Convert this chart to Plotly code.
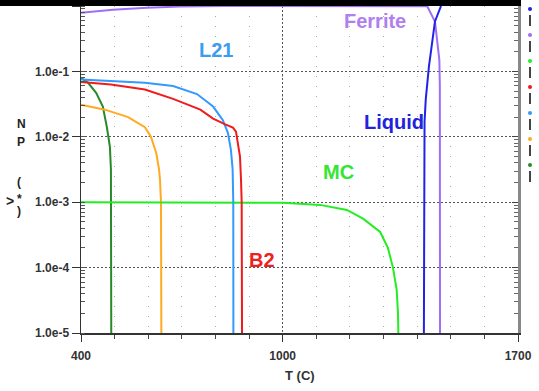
import math
import plotly.graph_objects as go

# ---------------- data ----------------
liquid_T = [1420, 1420.5, 1422, 1425.5, 1435, 1453, 1471]
liquid_NP = [1e-5, 1e-3, 0.017, 0.037, 0.118, 0.58, 1.0]

ferrite_T = [400, 495, 596, 695, 823, 1000, 1300, 1430, 1453, 1462, 1466, 1467.5, 1468]
ferrite_NP = [0.79, 0.88, 0.94, 0.98, 1.0, 1.0, 1.0, 0.99, 0.58, 0.26, 0.15, 0.06, 1e-5]

mc_T = [400, 1000, 1050, 1111, 1191, 1239, 1290, 1313, 1328, 1339, 1343, 1344]
mc_NP = [1e-3, 9.8e-4, 9.5e-4, 9.1e-4, 7.6e-4, 5.6e-4, 3.5e-4, 2e-4, 1e-4, 4.6e-5, 2e-5, 1e-5]

b2_T = [400, 489, 590, 674, 755, 793, 829, 852, 861, 867, 873, 876, 878, 879]
b2_NP = [0.069, 0.063, 0.053, 0.038, 0.026, 0.019, 0.0155, 0.0138, 0.012, 0.0083, 0.005, 0.0022, 0.001, 1e-5]

l21_T = [400, 489, 590, 674, 745, 793, 822, 837, 846, 851, 853, 853.3]
l21_NP = [0.075, 0.071, 0.067, 0.0596, 0.045, 0.029, 0.018, 0.0115, 0.0063, 0.0032, 0.001, 1e-5]

orange_T = [400, 471, 540, 590, 608, 624, 632, 635, 638, 639]
orange_NP = [0.031, 0.026, 0.020, 0.014, 0.01, 0.0056, 0.0032, 0.0022, 0.001, 1e-5]

dkgreen_T = [400, 421, 445, 465, 477, 486, 489, 490]
dkgreen_NP = [0.08, 0.067, 0.047, 0.029, 0.014, 0.007, 0.0032, 1e-5]

x_tickvals = [400, 1000, 1700]
x_ticktext = ["400", "1000", "1700"]
y_tickvals = [1e-5, 1e-4, 1e-3, 1e-2, 1e-1, 1e0]
y_ticktext = ["1.0e-5", "1.0e-4", "1.0e-3", "1.0e-2", "1.0e-1", "1.0e0"]

# phase labels: (text, T, NP, colour)
labels = [
    ("Ferrite", 1275, 0.58, "#b07ff0"),
    ("L21", 802, 0.215, "#3b9cf0"),
    ("Liquid", 1332, 0.0171, "#2222dd"),
    ("MC", 1165, 0.0029, "#33e633"),
    ("B2", 938, 1.3e-4, "#ee2020"),
]

C_LIQ = "#2222e6"
C_FER = "#a06ef5"
C_MC = "#22ee22"
C_B2 = "#ee1c1c"
C_L21 = "#3399ff"
C_OR = "#ffaa22"
C_DG = "#2a8a2a"

series = [
    (dkgreen_T, dkgreen_NP, C_DG),
    (orange_T, orange_NP, C_OR),
    (mc_T, mc_NP, C_MC),
    (l21_T, l21_NP, C_L21),
    (b2_T, b2_NP, C_B2),
    (ferrite_T, ferrite_NP, C_FER),
    (liquid_T, liquid_NP, C_LIQ),
]
legend_colors = [C_LIQ, C_FER, C_MC, C_B2, C_L21, C_OR, C_DG]

W, H = 539, 391
L, R, T, B = 81, 21, 6, 58
PW, PH = W - L - R, H - T - B


def px(x):
    return (x - L) / PW


def py(y):
    return (H - B - y) / PH


fig = go.Figure()
for xs, ys, c in series:
    fig.add_trace(go.Scatter(x=xs, y=ys, mode="lines",
                             line=dict(color=c, width=2), showlegend=False,
                             hoverinfo="skip"))
# invisible trace to hold the mirrored right axis
fig.add_trace(go.Scatter(x=[400], y=[1e-3], yaxis="y2", mode="markers",
                         marker=dict(opacity=0), showlegend=False, hoverinfo="skip"))

FONT = "Liberation Sans, Arial"
tickfont = dict(family=FONT, size=12, color="#333", weight="bold")

fig.update_layout(
    width=W, height=H,
    margin=dict(l=L, r=R, t=T, b=B, autoexpand=False),
    paper_bgcolor="white", plot_bgcolor="white",
    xaxis=dict(
        range=[400, 1700], tickmode="array", tickvals=x_tickvals, ticktext=x_ticktext,
        tickfont=tickfont, ticks="outside", ticklen=7, tickcolor="#333",
        ticklabelstandoff=4, automargin=False,
        showline=True, linecolor="#333", linewidth=1.5,
        showgrid=True, gridcolor="#555", griddash="2px,2px", gridwidth=1,
        minor=dict(tick0=400, dtick=100, ticks="outside", ticklen=4, tickcolor="#444",
                   showgrid=True, gridcolor="#aaa", griddash="1px,9px", gridwidth=1),
        zeroline=False,
    ),
    yaxis=dict(
        type="log", range=[-5, 0], tickmode="array", tickvals=y_tickvals, ticktext=y_ticktext,
        tickfont=tickfont, ticks="outside", ticklen=8, tickcolor="#333",
        ticklabelstandoff=0, automargin=False,
        showline=True, linecolor="#333", linewidth=1.5,
        showgrid=True, gridcolor="#555", griddash="2px,2px", gridwidth=1,
        minor=dict(dtick="D1", ticks="inside", ticklen=4, tickcolor="#555", showgrid=False),
        zeroline=False,
    ),
    yaxis2=dict(
        type="log", range=[-5, 0], overlaying="y", side="right", anchor="x",
        tickmode="array", tickvals=y_tickvals, showticklabels=False, automargin=False,
        ticks="inside", ticklen=6, tickcolor="#444",
        minor=dict(dtick="D1", ticks="inside", ticklen=4, tickcolor="#666", showgrid=False),
        showline=True, linecolor="#888", linewidth=3, showgrid=False, zeroline=False,
    ),
)

for text, tx, ty, col in labels:
    fig.add_annotation(x=tx, y=math.log10(ty), xref="x", yref="y", text=text,
                       showarrow=False,
                       font=dict(family=FONT, size=20, color=col, weight="bold"))

# x-axis title
fig.add_annotation(x=px(300), y=py(385), xref="paper", yref="paper", text="T (C)",
                   showarrow=False,
                   font=dict(family=FONT, size=13, color="#333", weight="bold"))

# vertical y-axis title, letter by letter
title_chars = [("N", 15, 124), ("P", 15, 142), ("(", 15, 182), ("*", 15, 199), (")", 15, 211)]
for ch, x, y in title_chars:
    fig.add_annotation(x=px(x), y=py(y), xref="paper", yref="paper", text=ch,
                       showarrow=False,
                       font=dict(family=FONT, size=12, color="#222", weight="bold"))
fig.add_annotation(x=px(4), y=py(201), xref="paper", yref="paper", text="&gt;",
                   showarrow=False,
                   font=dict(family=FONT, size=14, color="#222", weight="bold"))

# black bar at the top of the image (drawn as an empty annotation box)
fig.add_annotation(x=px(0), y=py(0), xref="paper", yref="paper", xanchor="left",
                   yanchor="top", text=" ", showarrow=False, width=521, height=5,
                   bgcolor="black", borderpad=0, borderwidth=0,
                   font=dict(size=4, color="black"))

shapes = []
shapes.append(dict(type="rect", xref="paper", yref="paper", x0=px(0), x1=px(521),
                   y0=py(6), y1=py(-2), fillcolor="black", line=dict(width=0),
                   layer="above"))
# legend stubs on the right
for i, c in enumerate(legend_colors):
    yc = 9 + 26 * i
    shapes.append(dict(type="circle", xref="paper", yref="paper",
                       x0=px(528), x1=px(532), y0=py(yc + 2), y1=py(yc - 2),
                       fillcolor=c, line=dict(width=0)))
    shapes.append(dict(type="line", xref="paper", yref="paper",
                       x0=px(530), x1=px(530), y0=py(yc + 6), y1=py(yc + 17),
                       line=dict(color="#444", width=2)))
fig.update_layout(shapes=shapes)

fig.write_html(
    "out.html",
    config={"displayModeBar": False, "staticPlot": True},
    post_script=(
        "document.body.style.margin='0';"
        "document.body.style.overflow='hidden';"
    ),
)
